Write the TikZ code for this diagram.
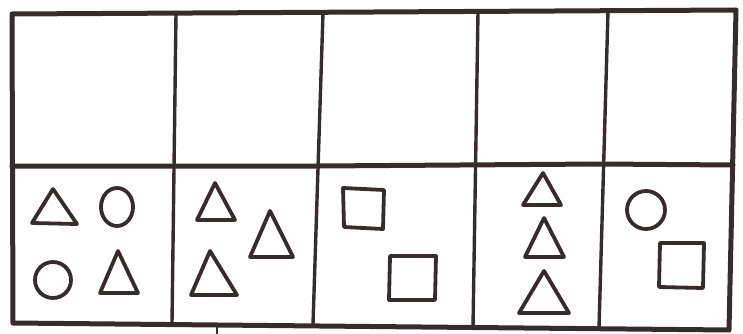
\documentclass[tikz,border=0pt]{standalone}
\definecolor{ink}{RGB}{55,44,44}
\begin{document}
\begin{tikzpicture}[x=1pt,y=-1pt,
  frame/.style={draw=ink,line width=5pt,line join=round,line cap=round},
  divider/.style={draw=ink,line width=3.4pt,line cap=round},
  fig/.style={draw=ink,line width=3.8pt,line join=round,line cap=round}]
\useasboundingbox (0,0) rectangle (743,334);
% outer frame
\draw[frame] (12,14) -- (736,10) -- (729,330) -- (13,323) -- cycle;
% middle horizontal line
\draw[frame] (12,166) -- (320,166) -- (600,164) -- (733,165);
% vertical dividers
\draw[divider] (176,14) -- (172,323);
\draw[divider] (323,13) -- (313,324);
\draw[divider] (478,12) -- (473,327);
\draw[divider] (608,11) -- (599,328);
% small tick below
\draw[divider,line width=2pt] (217,326) -- (217,334);
% cell 1
\draw[fig] (53,189) -- (77,224) -- (32,223) -- cycle;
\draw[fig] (117,207) ellipse [x radius=16, y radius=19];
\draw[fig] (53,280) circle [radius=18];
\draw[fig] (118,251) -- (138,293) -- (100,293) -- cycle;
% cell 2
\draw[fig] (215,183) -- (235,220) -- (197,220) -- cycle;
\draw[fig] (270,211) -- (293,257) -- (250,257) -- cycle;
\draw[fig] (210,251) -- (237,295) -- (191,295) -- cycle;
% cell 3
\draw[fig] (343,188) -- (384,190) -- (383,229) -- (344,227) -- cycle;
\draw[fig] (390,256) -- (436,256) -- (435,300) -- (389,300) -- cycle;
% cell 4
\draw[fig] (543,173) -- (561,205) -- (523,205) -- cycle;
\draw[fig] (544,218) -- (564,257) -- (525,257) -- cycle;
\draw[fig] (544,271) -- (569,313) -- (519,313) -- cycle;
% cell 5
\draw[fig] (646,210) circle [radius=19];
\draw[fig] (660,243) -- (704,243) -- (703,288) -- (659,287) -- cycle;
\end{tikzpicture}
\end{document}
